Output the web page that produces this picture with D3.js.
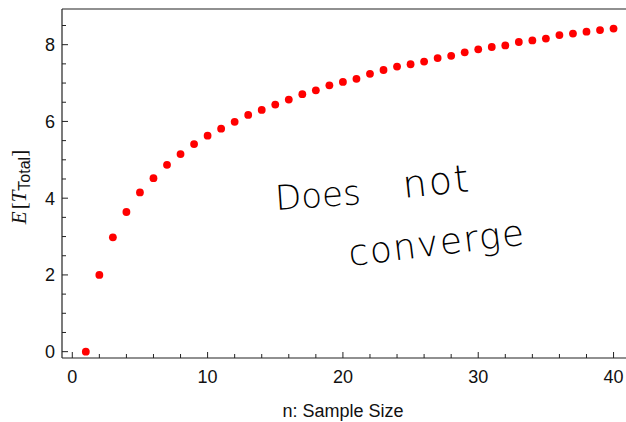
<!DOCTYPE html>
<html>
<head>
<meta charset="utf-8">
<script src="https://cdn.jsdelivr.net/npm/d3@7"></script>
<style>
  body { margin: 0; background: #fff; }
  svg { display: block; }
  .tick-label { font-family: "Liberation Sans", Arial, sans-serif; font-size: 18px; fill: #111; }
  .note { font-family: "DejaVu Sans", sans-serif; font-weight: 200; font-size: 34px; fill: #000; }
</style>
</head>
<body>
<svg id="chart" width="626" height="422"></svg>
<script>
const sampleSize = d3.range(1, 41)

const expectedTotal = [
	0, 2.0, 2.98, 3.64, 4.15, 4.52, 4.87, 5.15, 5.41, 5.63,
	5.81, 5.99, 6.17, 6.30, 6.44, 6.57, 6.71, 6.81, 6.94, 7.03,
	7.11, 7.24, 7.34, 7.43, 7.49, 7.56, 7.65, 7.71, 7.80, 7.88,
	7.94, 7.98, 8.07, 8.11, 8.16, 8.25, 8.29, 8.34, 8.38, 8.42
]

const xMajor = [0, 10, 20, 30, 40]
const xMinor = d3.range(2, 40, 2).filter(d => d % 10 !== 0)
const yMajor = [0, 2, 4, 6, 8]
const yMinor = d3.range(0.5, 9, 0.5).filter(d => d % 2 !== 0)

const svg = d3.select('#chart')
const frame = { left: 62, top: 9, right: 628, bottom: 358 }

const x = d3.scaleLinear()
	.domain([-0.76, 40.92])
	.range([frame.left, frame.right - 2])

const y = d3.scaleLinear()
	.domain([-0.165, 8.93])
	.range([frame.bottom, frame.top])

const line = (x1, y1, x2, y2, w) => svg.append('line')
	.attr('x1', x1).attr('y1', y1).attr('x2', x2).attr('y2', y2)
	.attr('stroke', '#222').attr('stroke-width', w || 1)

// frame
line(frame.left, frame.top, frame.right, frame.top, 1.2)
line(frame.left, frame.top, frame.left, frame.bottom, 1.2)
line(frame.left, frame.bottom, frame.right, frame.bottom, 1.2)

// ticks point inward
xMajor.forEach(d => line(x(d), frame.bottom, x(d), frame.bottom - 6))
xMinor.forEach(d => line(x(d), frame.bottom, x(d), frame.bottom - 4))
yMajor.forEach(d => line(frame.left, y(d), frame.left + 6, y(d)))
yMinor.forEach(d => line(frame.left, y(d), frame.left + 4, y(d)))

svg.selectAll('.xl')
	.data(xMajor)
	.enter()
	.append('text')
	.attr('class', 'tick-label')
	.attr('x', d => x(d))
	.attr('y', 383)
	.attr('text-anchor', 'middle')
	.text(d => d)

svg.selectAll('.yl')
	.data(yMajor)
	.enter()
	.append('text')
	.attr('class', 'tick-label')
	.attr('x', 55)
	.attr('y', d => y(d) + 6.5)
	.attr('text-anchor', 'end')
	.text(d => d)

svg.append('text')
	.attr('class', 'tick-label')
	.attr('x', 343)
	.attr('y', 417)
	.attr('text-anchor', 'middle')
	.text('n: Sample Size')

// y title E[T_Total]
const yt = svg.append('text')
	.attr('transform', 'translate(26, 187) rotate(-90)')
	.attr('text-anchor', 'middle')
	.style('font-family', '"Liberation Serif", serif')
	.style('font-size', '21px')
	.attr('fill', '#111')
yt.append('tspan').style('font-style', 'italic').text('E')
yt.append('tspan').attr('dx', 2).text('[')
yt.append('tspan').style('font-style', 'italic').text('T')
yt.append('tspan')
	.attr('dy', 4)
	.style('font-family', '"Liberation Sans", sans-serif')
	.style('font-size', '16px')
	.text('Total')
yt.append('tspan').attr('dy', -4).text(']')

svg.selectAll('.pt')
	.data(sampleSize)
	.enter()
	.append('circle')
	.attr('cx', d => x(d))
	.attr('cy', (d, i) => y(expectedTotal[i]))
	.attr('r', 3.9)
	.attr('fill', '#f00')

// handwritten note
svg.append('text')
	.attr('class', 'note')
	.attr('transform', 'translate(276, 210) rotate(-4)')
	.text('Does')
svg.append('text')
	.attr('class', 'note')
	.attr('transform', 'translate(404, 198) rotate(-6)')
	.style('font-size', '38px')
	.style('letter-spacing', '2px')
	.text('not')
svg.append('text')
	.attr('class', 'note')
	.attr('transform', 'translate(350, 266) rotate(-7)')
	.style('font-size', '36px')
	.style('letter-spacing', '1.5px')
	.text('converge')
</script>
</body>
</html>
